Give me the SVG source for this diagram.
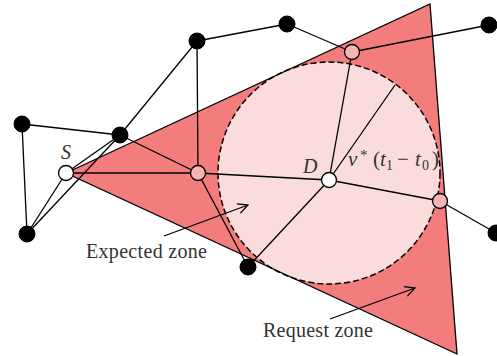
<svg xmlns="http://www.w3.org/2000/svg" width="497" height="356" viewBox="0 0 497 356">
<defs>
<style>
.e{stroke:#000;stroke-width:1.3;fill:none}
.b{fill:#000;stroke:#000;stroke-width:1}
.w{fill:#fff;stroke:#000;stroke-width:1.3}
.p{fill:#f6b5b5;stroke:#000;stroke-width:1.3}
.t{font-family:"Liberation Serif","Times New Roman",serif;font-size:20px;fill:#333}
.m{font-size:21px}
.i{font-style:italic}
</style>
<marker id="ah" viewBox="0 0 12 12" refX="11" refY="6" markerWidth="12" markerHeight="12" markerUnits="userSpaceOnUse" orient="auto">
<path d="M1,1 L11,6 L1,11" fill="none" stroke="#000" stroke-width="1.3"/>
</marker>
</defs>
<rect width="497" height="356" fill="#fff"/>
<g id="request-zone">
<polygon points="66,173 430,4 457,354" fill="#f37d7d" stroke="none"/>
</g>
<g id="expected-zone">
<circle cx="329" cy="173" r="111" fill="#fadcdc" stroke="#000" stroke-width="1.5" stroke-dasharray="6 3"/>
</g>
<g id="triangle-outline">
<polygon points="66,173 430,4 457,354" fill="none" stroke="#000" stroke-width="1.3"/>
</g>
<g id="connectors">
<line class="e" x1="197" y1="41" x2="287" y2="24"/>
<line class="e" x1="287" y1="24" x2="352" y2="52"/>
<line class="e" x1="352" y1="52" x2="489" y2="25"/>
<line class="e" x1="197" y1="41" x2="198" y2="173"/>
<line class="e" x1="197" y1="41" x2="120" y2="135"/>
<line class="e" x1="120" y1="135" x2="27" y2="234"/>
<line class="e" x1="22" y1="124" x2="120" y2="135"/>
<line class="e" x1="22" y1="124" x2="27" y2="234"/>
<line class="e" x1="27" y1="234" x2="66" y2="173"/>
<line class="e" x1="120" y1="135" x2="66" y2="173"/>
<line class="e" x1="120" y1="135" x2="198" y2="173"/>
<line class="e" x1="66" y1="173" x2="198" y2="173"/>
<line class="e" x1="198" y1="173" x2="329" y2="180"/>
<line class="e" x1="198" y1="173" x2="248" y2="267"/>
<line class="e" x1="329" y1="180" x2="352" y2="52"/>
<line class="e" x1="329" y1="180" x2="395" y2="85"/>
<line class="e" x1="329" y1="180" x2="440" y2="201"/>
<line class="e" x1="329" y1="180" x2="248" y2="267"/>
<line class="e" x1="440" y1="201" x2="496" y2="233"/>
<line class="e" x1="164" y1="236" x2="248" y2="205" marker-end="url(#ah)"/>
<line class="e" x1="330" y1="319" x2="415" y2="288" marker-end="url(#ah)"/>
</g>
<g id="n1"><circle class="b" cx="197" cy="41" r="8"/></g>
<g id="n2"><circle class="b" cx="287" cy="24" r="8"/></g>
<g id="n3"><circle class="b" cx="489" cy="25" r="8"/></g>
<g id="n4"><circle class="b" cx="22" cy="124" r="8"/></g>
<g id="n5"><circle class="b" cx="120" cy="135" r="8"/></g>
<g id="n6"><circle class="b" cx="27" cy="234" r="8"/></g>
<g id="n7"><circle class="b" cx="248" cy="267" r="8"/></g>
<g id="n8"><circle class="b" cx="496" cy="233" r="8"/></g>
<g id="p1"><circle class="p" cx="198" cy="173" r="7.5"/></g>
<g id="p2"><circle class="p" cx="352" cy="52" r="7.5"/></g>
<g id="p3"><circle class="p" cx="440" cy="201" r="7.5"/></g>
<g id="S"><circle class="w" cx="66" cy="173" r="7.5"/><text class="t i" x="61" y="159">S</text></g>
<g id="D"><circle class="w" cx="329" cy="180" r="7.5"/><text class="t i" x="303" y="173" font-size="21">D</text></g>
<g id="labels">
<text class="t m" y="166"><tspan class="i" x="348">v</tspan><tspan font-size="15" x="360" y="160">*</tspan><tspan x="373" y="166">(</tspan><tspan class="i" x="380">t</tspan><tspan font-size="14" x="386" y="170">1</tspan><tspan x="397" y="166">−</tspan><tspan class="i" x="415">t</tspan><tspan font-size="14" x="422" y="170">0</tspan><tspan x="432" y="166">)</tspan></text>
<text class="t" x="86" y="258" textLength="121">Expected zone</text>
<text class="t" x="263" y="337" textLength="110">Request zone</text>
</g>
</svg>
